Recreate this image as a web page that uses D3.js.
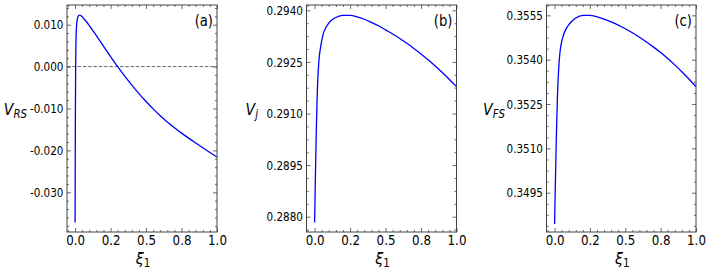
<!DOCTYPE html>
<html>
<head>
<meta charset="utf-8">
<script src="https://cdn.jsdelivr.net/npm/d3@7"></script>
<style>
  html, body { margin: 0; padding: 0; background: #fff; }
  svg { display: block; font-family: "DejaVu Sans", sans-serif; }
</style>
</head>
<body>
<svg id="chart" width="709" height="273"></svg>
<script>
// ---------------- data ----------------
const xi = [0, 0.002, 0.004, 0.006, 0.008, 0.012, 0.016, 0.02, 0.03, 0.04, 0.05, 0.06, 0.08, 0.1, 0.125, 0.15, 0.2, 0.25, 0.3, 0.35, 0.4, 0.45, 0.5, 0.55, 0.6, 0.65, 0.7, 0.75, 0.8, 0.85, 0.9, 0.95, 1.0];

const vRS = [-0.0372, -0.012, 0.0, 0.0055, 0.0082, 0.0104, 0.0114, 0.0119, 0.0123, 0.0122, 0.0119, 0.0115, 0.0107, 0.0098, 0.0086, 0.0074, 0.0049, 0.0024, 0.0000, -0.00228, -0.00443, -0.00645, -0.00834, -0.0101, -0.01173, -0.01323, -0.01461, -0.01588, -0.01708, -0.01824, -0.01938, -0.0205, -0.0216];

const vJ = [0.28783, 0.2883, 0.28876, 0.28921, 0.28964, 0.29045, 0.29115, 0.29172, 0.29252, 0.29287, 0.29311, 0.2933, 0.2935, 0.29363, 0.29373, 0.29379, 0.29385, 0.29385, 0.29381, 0.29374, 0.29365, 0.29355, 0.29343, 0.29331, 0.29318, 0.29304, 0.29289, 0.29273, 0.29256, 0.29238, 0.29219, 0.29199, 0.29178];

const vFS = [0.34844, 0.34893, 0.34941, 0.34988, 0.35034, 0.35122, 0.352, 0.35268, 0.35378, 0.35432, 0.3546, 0.35479, 0.35503, 0.35518, 0.35531, 0.35541, 0.3555, 0.3555, 0.35545, 0.355375, 0.35528, 0.35517, 0.355045, 0.35491, 0.35476, 0.3546, 0.354425, 0.35424, 0.35404, 0.353825, 0.35359, 0.353345, 0.353085];

const xTickValues = [0, 0.25, 0.5, 0.75, 1.0];
const xTickLabels = ["0.0", "0.2", "0.5", "0.8", "1.0"];

const yTicksA = [-0.03, -0.02, -0.01, 0.0, 0.01];
const yTickLabelsA = ["-0.030", "-0.020", "-0.010", "0.000", "0.010"];
const yTicksB = [0.288, 0.2895, 0.291, 0.2925, 0.294];
const yTickLabelsB = ["0.2880", "0.2895", "0.2910", "0.2925", "0.2940"];
const yTicksC = [0.3495, 0.351, 0.3525, 0.354, 0.3555];
const yTickLabelsC = ["0.3495", "0.3510", "0.3525", "0.3540", "0.3555"];

const panelTags = ["(a)", "(b)", "(c)"];
const yLabelSubs = ["RS", "j", "FS"];

// ---------------- layout ----------------
const svg = d3.select("#chart");
const plotTop = 5, plotBottom = 232;
const frameColor = "#444";
const sx = 0.8; // horizontal text compression seen in the reference

const panels = [
  { left: 67,  right: 217, values: vRS, yDomain: [-0.03948, 0.0147], ticks: yTicksA, labels: yTickLabelsA, minorStep: 0.002, yLabelEnd: 27,  tag: panelTags[0], sub: yLabelSubs[0], zeroLine: true },
  { left: 306.5, right: 456.5, values: vJ, yDomain: [0.287555, 0.294154], ticks: yTicksB, labels: yTickLabelsB, minorStep: 0.000375, yLabelEnd: 258, tag: panelTags[1], sub: yLabelSubs[1], zeroLine: false },
  { left: 546.5, right: 696, values: vFS, yDomain: [0.34817, 0.35585], ticks: yTicksC, labels: yTickLabelsC, minorStep: 0.000375, yLabelEnd: 505, tag: panelTags[2], sub: yLabelSubs[2], zeroLine: false }
];

function rangeSteps(lo, hi, step, base) {
  const out = [];
  const k0 = Math.ceil((lo - base) / step - 1e-9);
  const k1 = Math.floor((hi - base) / step + 1e-9);
  for (let k = k0; k <= k1; k++) out.push(+(base + k * step).toFixed(8));
  return out;
}

panels.forEach((p) => {
  const x = d3.scaleLinear().domain([-0.057, 1.0]).range([p.left, p.right]);
  const y = d3.scaleLinear().domain(p.yDomain).range([plotBottom, plotTop]);
  const g = svg.append("g");

  if (p.zeroLine) {
    g.append("line")
      .attr("x1", p.left).attr("x2", p.right)
      .attr("y1", y(0)).attr("y2", y(0))
      .attr("stroke", "#555").attr("stroke-width", 0.9)
      .attr("stroke-dasharray", "3.5,1.8");
  }

  const line = d3.line().x((d, i) => x(xi[i])).y(d => y(d)).curve(d3.curveMonotoneX);
  g.append("path").datum(p.values)
    .attr("d", line).attr("fill", "none")
    .attr("stroke", "#0000ff").attr("stroke-width", 1.3);

  const xMinor = rangeSteps(-0.057, 1.0, 0.05, 0).filter(v => !xTickValues.some(t => Math.abs(t - v) < 1e-6));
  const yMinor = rangeSteps(p.yDomain[0], p.yDomain[1], p.minorStep, p.ticks[0]).filter(v => !p.ticks.some(t => Math.abs(t - v) < 1e-7));

  const styleAxis = sel => {
    sel.select(".domain").remove();
    sel.selectAll(".tick line").attr("stroke", frameColor).attr("stroke-width", 0.8);
  };

  const xb = g.append("g").attr("transform", `translate(0,${plotBottom})`)
    .call(d3.axisBottom(x).tickValues(xTickValues).tickFormat((d, i) => xTickLabels[i]).tickSize(-4).tickPadding(3.5));
  styleAxis(xb);
  xb.selectAll("text")
    .attr("font-size", 13.5).attr("fill", "#000")
    .attr("font-family", "DejaVu Sans, sans-serif")
    .attr("transform", `scale(0.88,1)`);
  g.append("g").attr("transform", `translate(0,${plotBottom})`)
    .call(d3.axisBottom(x).tickValues(xMinor).tickFormat("").tickSize(-2)).call(styleAxis);
  g.append("g").attr("transform", `translate(0,${plotTop})`)
    .call(d3.axisTop(x).tickValues(xTickValues).tickFormat("").tickSize(-4)).call(styleAxis);
  g.append("g").attr("transform", `translate(0,${plotTop})`)
    .call(d3.axisTop(x).tickValues(xMinor).tickFormat("").tickSize(-2)).call(styleAxis);

  const yl = g.append("g").attr("transform", `translate(${p.left},0)`)
    .call(d3.axisLeft(y).tickValues(p.ticks).tickFormat((d, i) => p.labels[i]).tickSize(-4).tickPadding(4.5));
  styleAxis(yl);
  yl.selectAll("text")
    .attr("font-size", 13).attr("fill", "#000")
    .attr("font-family", "DejaVu Sans, sans-serif")
    .attr("transform", `scale(${sx},1)`);
  g.append("g").attr("transform", `translate(${p.left},0)`)
    .call(d3.axisLeft(y).tickValues(yMinor).tickFormat("").tickSize(-2)).call(styleAxis);
  g.append("g").attr("transform", `translate(${p.right},0)`)
    .call(d3.axisRight(y).tickValues(p.ticks).tickFormat("").tickSize(-4)).call(styleAxis);
  g.append("g").attr("transform", `translate(${p.right},0)`)
    .call(d3.axisRight(y).tickValues(yMinor).tickFormat("").tickSize(-2)).call(styleAxis);

  g.append("rect")
    .attr("x", p.left).attr("y", plotTop)
    .attr("width", p.right - p.left).attr("height", plotBottom - plotTop)
    .attr("fill", "none").attr("stroke", frameColor).attr("stroke-width", 1);

  g.append("text")
    .attr("transform", `translate(${p.right - 4},26) scale(0.88,1)`)
    .attr("text-anchor", "end").attr("font-size", 15).attr("fill", "#000")
    .text(p.tag);

  const yt = g.append("text")
    .attr("transform", `translate(${p.yLabelEnd},115) scale(0.85,1)`)
    .attr("text-anchor", "end").attr("fill", "#000");
  yt.append("tspan").attr("font-size", 16.5).attr("font-style", "italic").text("V");
  yt.append("tspan").attr("font-size", 12).attr("font-style", "italic").attr("dy", 3).text(p.sub);

  const xt = g.append("text")
    .attr("transform", `translate(${(p.left + p.right) / 2 + 1},263.5) scale(0.9,1)`)
    .attr("text-anchor", "middle").attr("fill", "#000");
  xt.append("tspan").attr("font-size", 16).attr("font-style", "italic").text("ξ");
  xt.append("tspan").attr("font-size", 11.5).attr("dy", 3).text("1");
});
</script>
</body>
</html>
